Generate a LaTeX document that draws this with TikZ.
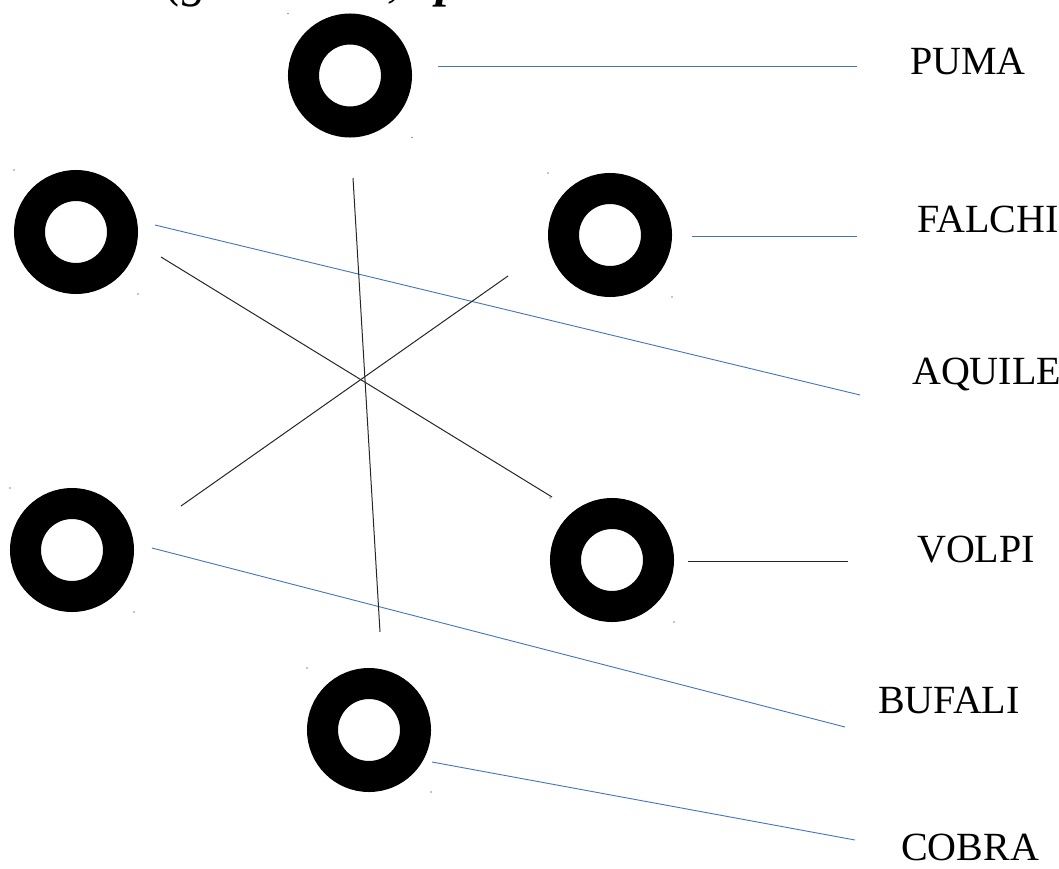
\documentclass[tikz,border=0pt]{standalone}
\usepackage{fontspec}
\setmainfont{Liberation Serif}
\definecolor{lineblue}{HTML}{4472C4}
\begin{document}
\begin{tikzpicture}[x=1pt,y=-1pt,
  ring/.style={circle,draw=black,line width=31pt,minimum size=93pt,inner sep=0pt},
  lab/.style={anchor=base west,inner sep=0pt,font=\fontsize{40}{48}\selectfont},
  bluelink/.style={draw=lineblue,line width=0.9pt},
  blacklink/.style={draw=black!85,line width=1pt},
  speck/.style={fill=black!45,draw=none}]
\useasboundingbox (0,0) rectangle (1059,869);
\begin{scope}
\clip (0,0) rectangle (1059,869);
\node[anchor=base west,inner sep=0pt,font=\fontsize{50}{60}\selectfont\itshape] (title) at (166,-3) {(gatto nero,\hspace{36pt}\textbf{p}artita};
\end{scope}
% rings
\node[ring] (top) at (350,75.5) {};
\node[ring] (lu) at (76,232) {};
\node[ring] (ru) at (610,235) {};
\node[ring] (ll) at (72,550) {};
\node[ring] (rl) at (612,560) {};
\node[ring] (bot) at (369,730) {};
% specks at image corners
\foreach \n in {top,lu,ru,ll,rl,bot}{
  \fill[speck] ([shift={(-62,-62)}]\n.center) circle (0.8);
  \fill[speck] ([shift={(62,62)}]\n.center) circle (0.8);
}
% labels
\node[lab] (puma) at (910,75) {PUMA};
\node[lab] (falchi) at (917,232) {FALCHI};
\node[lab] (aquile) at (912,384) {AQUILE};
\node[lab] (volpi) at (917,562) {VOLPI};
\node[lab] (bufali) at (878,713) {BUFALI};
\node[lab] (cobra) at (901,860) {COBRA};
% line end coordinates
\coordinate (a1) at (438,66);   \coordinate (a2) at (857,66);
\coordinate (b1) at (692,236);  \coordinate (b2) at (857,236);
\coordinate (c1) at (155,225);  \coordinate (c2) at (860,395);
\coordinate (d1) at (152,548);  \coordinate (d2) at (845,727);
\coordinate (e1) at (432,762);  \coordinate (e2) at (855,840);
\coordinate (f1) at (688,561);  \coordinate (f2) at (848,561);
\coordinate (g1) at (353,178);  \coordinate (g2) at (380,632);
\coordinate (h1) at (161,257);  \coordinate (h2) at (552,497);
\coordinate (k1) at (181,506);  \coordinate (k2) at (508,276);
% connectors
\draw[bluelink] (a1) -- (a2);
\draw[bluelink] (b1) -- (b2);
\draw[bluelink] (c1) -- (c2);
\draw[bluelink] (d1) -- (d2);
\draw[bluelink] (e1) -- (e2);
\draw[blacklink] (f1) -- (f2);
\draw[blacklink] (g1) -- (g2);
\draw[blacklink] (h1) -- (h2);
\draw[blacklink] (k1) -- (k2);
\end{tikzpicture}
\end{document}
